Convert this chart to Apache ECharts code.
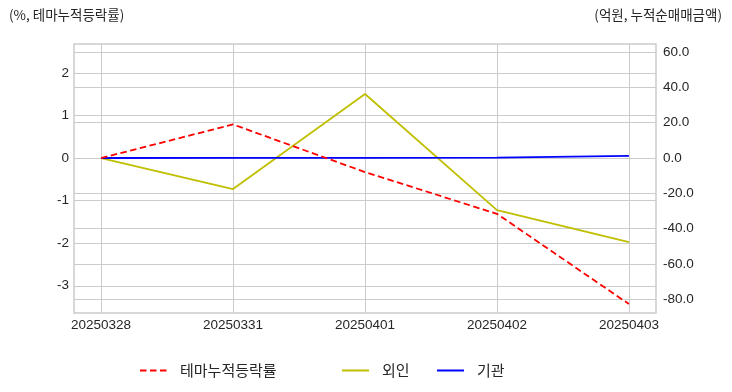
<!DOCTYPE html>
<html><head><meta charset="utf-8">
<script src="https://cdn.jsdelivr.net/npm/echarts@6/dist/echarts.min.js"></script>
<style>html,body{margin:0;padding:0;background:#fff}#c{width:732px;height:392px}</style>
</head><body><div id="c"></div>
<script>
const categories = ['20250328','20250331','20250401','20250402','20250403'];
const themeRate = [0, 0.79, -0.33, -1.31, -3.43];      // 테마누적등락률 (%), left axis
const foreign = [0, -17.6, 36.3, -29.5, -47.6];        // 외인 (억원), right axis
const institution = [0, 0.1, 0.1, 0.2, 1.2];           // 기관 (억원), right axis
const leftTicks = [-3, -2, -1, 0, 1, 2];
const rightTicks = [-80, -60, -40, -20, 0, 20, 40, 60];
const xTicks = [0, 1, 2, 3, 4];

const FONT = 'Liberation Sans, Arial, "Noto Sans CJK KR", sans-serif';
const KFONT = '"Noto Sans CJK KR", "Liberation Sans", sans-serif';
const GRID = '#cccccc';
const TXT = '#262626';

const chart = echarts.init(document.getElementById('c'), null, {renderer: 'canvas'});
const pair = arr => arr.map((v, i) => [i, v]);
const legendCommon = {
  top: 363, padding: 0, itemWidth: 27, itemHeight: 12,
  itemStyle: {opacity: 0},
  textStyle: {fontFamily: KFONT, fontSize: 15, color: TXT, padding: [0, 0, 0, 8]}
};
chart.setOption({
  animation: false,
  textStyle: {fontFamily: FONT},
  title: [
    {text: '(%, 테마누적등락률)', left: 9, top: 8, padding: 0, textStyle: {fontFamily: KFONT, fontSize: 13.5, fontWeight: 'normal', color: TXT}},
    {text: '(억원, 누적순매매금액)', right: 10, top: 8, padding: 0, textStyle: {fontFamily: KFONT, fontSize: 13.5, fontWeight: 'normal', color: TXT}}
  ],
  grid: {left: 74, right: 76, top: 44, bottom: 79, show: true, borderColor: GRID, borderWidth: 1.5, containLabel: false},
  legend: [
    Object.assign({data: [{name: '테마누적등락률'}], left: 139}, legendCommon),
    Object.assign({data: [{name: '외인'}], left: 341}, legendCommon),
    Object.assign({data: [{name: '기관'}], left: 436}, legendCommon)
  ],
  xAxis: {
    type: 'value', min: -0.205, max: 4.205,
    axisLine: {show: false}, axisTick: {show: false, customValues: xTicks},
    axisLabel: {customValues: xTicks, formatter: v => categories[Math.round(v)], fontSize: 13.5, color: TXT, margin: 6, fontFamily: FONT},
    splitLine: {show: true, lineStyle: {color: GRID, width: 1}}
  },
  yAxis: [
    {type: 'value', position: 'left', min: -3.64, max: 2.68,
     axisLine: {show: false}, axisTick: {show: false, customValues: leftTicks},
     axisLabel: {customValues: leftTicks, fontSize: 13.5, color: TXT, margin: 5, fontFamily: FONT},
     splitLine: {show: true, lineStyle: {color: GRID, width: 1}}},
    {type: 'value', position: 'right', min: -87.8, max: 64.6,
     axisLine: {show: false}, axisTick: {show: false, customValues: rightTicks},
     axisLabel: {customValues: rightTicks, formatter: v => v.toFixed(1), fontSize: 13.5, color: TXT, margin: 7, fontFamily: FONT},
     splitLine: {show: true, lineStyle: {color: GRID, width: 1}}}
  ],
  series: [
    {name: '테마누적등락률', type: 'line', yAxisIndex: 0, data: pair(themeRate), showSymbol: false, symbol: 'none',
     lineStyle: {color: '#ff0000', width: 1.8, type: [6.5, 3.5]}, itemStyle: {color: '#ff0000'}, z: 4},
    {name: '외인', type: 'line', yAxisIndex: 1, data: pair(foreign), showSymbol: false, symbol: 'none',
     lineStyle: {color: '#bfbf00', width: 1.8}, itemStyle: {color: '#bfbf00'}, z: 3},
    {name: '기관', type: 'line', yAxisIndex: 1, data: pair(institution), showSymbol: false, symbol: 'none',
     lineStyle: {color: '#0000ff', width: 1.8}, itemStyle: {color: '#0000ff'}, z: 3}
  ]
});
</script></body></html>
